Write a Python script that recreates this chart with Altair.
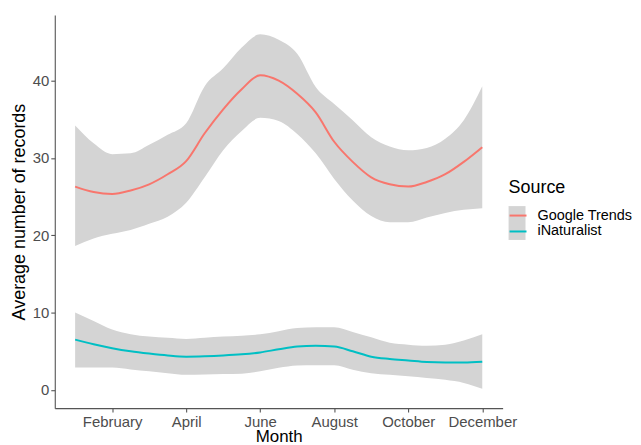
import altair as alt
import pandas as pd

months = [1, 1.5, 2, 2.5, 3, 3.5, 4, 4.5, 5, 5.5, 6, 6.5, 7, 7.5, 8, 8.5, 9, 9.5, 10, 10.5, 11, 11.5, 12]

google_fit = [26.3, 25.6, 25.35, 25.8, 26.6, 27.9, 29.6, 33.2, 36.3, 38.9, 40.7, 40.0, 38.3, 35.9, 32.1, 29.5, 27.5, 26.6, 26.3, 26.9, 27.9, 29.5, 31.4]
google_hi = [34.2, 31.9, 30.5, 30.6, 31.7, 33.0, 34.5, 39.3, 41.6, 44.3, 46.0, 45.3, 43.5, 39.2, 37.0, 34.9, 32.7, 31.5, 31.0, 31.3, 32.5, 34.9, 39.3]
google_lo = [18.6, 19.6, 20.2, 20.7, 21.5, 22.4, 24.2, 27.5, 31.0, 33.5, 35.2, 34.8, 33.1, 30.6, 27.3, 24.5, 22.5, 21.7, 21.7, 22.3, 22.9, 23.3, 23.5]

inat_fit = [6.5, 5.9, 5.4, 5.0, 4.7, 4.45, 4.3, 4.35, 4.45, 4.6, 4.85, 5.25, 5.6, 5.7, 5.6, 5.0, 4.3, 4.0, 3.8, 3.6, 3.55, 3.55, 3.65]
inat_hi = [10.0, 8.9, 7.8, 7.2, 6.9, 6.75, 6.6, 6.75, 6.9, 7.0, 7.2, 7.6, 8.0, 8.1, 8.1, 7.5, 6.8, 6.1, 5.85, 5.7, 5.85, 6.4, 7.2]
inat_lo = [2.9, 2.9, 2.9, 2.65, 2.4, 2.15, 1.95, 2.0, 2.05, 2.1, 2.4, 2.85, 3.15, 3.2, 3.2, 2.6, 2.15, 1.95, 1.75, 1.55, 1.3, 0.9, 0.15]

sources = ["Google Trends", "iNaturalist"]
source_colors = ["#F8766D", "#00BFC4"]
tick_months = [2, 4, 6, 8, 10, 12]
tick_names = ["February", "April", "June", "August", "October", "December"]
y_ticks = [0, 10, 20, 30, 40]

rows = []
for src, fit, lo, hi in [(sources[0], google_fit, google_lo, google_hi),
                         (sources[1], inat_fit, inat_lo, inat_hi)]:
    for m, f, l, h in zip(months, fit, lo, hi):
        rows.append({"Month": m, "Source": src, "fit": f, "lo": l, "hi": h})
df = pd.DataFrame(rows)

label_expr = "{" + ",".join(f"'{m}':'{n}'" for m, n in zip(tick_months, tick_names)) + "}[datum.value]"

FONT = "Liberation Sans"

x_enc = alt.X(
    "Month:Q",
    scale=alt.Scale(domain=[0.45, 12.55], nice=False, zero=False),
    axis=alt.Axis(values=tick_months, labelExpr=label_expr, title="Month", grid=False,
                  tickSize=4, labelPadding=2, titlePadding=0, titleFontSize=17),
)
y_scale = alt.Scale(domain=[-2.36, 48.5], nice=False, zero=False)
y_axis = alt.Axis(values=y_ticks, title="Average number of records", grid=False,
                  tickSize=4, labelPadding=2, titlePadding=4)

LX, LY = 456, 165

band = alt.Chart(df).mark_area(interpolate="monotone", opacity=1).encode(
    x=x_enc,
    y=alt.Y("lo:Q", scale=y_scale, axis=y_axis),
    y2="hi:Q",
    fill=alt.Fill(
        "Source:N",
        scale=alt.Scale(domain=sources[::-1], range=["#d4d4d4", "#d4d4d4"]),
        legend=alt.Legend(orient="none", legendX=LX, legendY=LY, title=" ",
                          symbolType="square", symbolSize=289, symbolStrokeWidth=0,
                          rowPadding=0, labelOffset=10, titlePadding=9,
                          labelExpr="''", zindex=1),
    ),
)

line = alt.Chart(df).mark_line(interpolate="monotone", strokeWidth=2).encode(
    x=x_enc,
    y=alt.Y("fit:Q", scale=y_scale, axis=y_axis),
    color=alt.Color(
        "Source:N",
        scale=alt.Scale(domain=sources, range=source_colors),
        legend=alt.Legend(orient="none", legendX=LX, legendY=LY, title="Source",
                          symbolType="stroke", symbolSize=289, symbolStrokeWidth=2,
                          rowPadding=0, labelOffset=10, titlePadding=9, zindex=2),
    ),
)

chart = alt.layer(band, line).properties(
    width=450, height=395,
    padding={"left": 2, "top": 6, "right": 0, "bottom": 0},
).configure_view(stroke=None).configure_axis(
    domainColor="#555555", tickColor="#555555", domainWidth=1.1, tickWidth=1.1,
    labelColor="#4d4d4d", labelFont=FONT, labelFontSize=15,
    titleColor="#000000", titleFont=FONT, titleFontSize=18, titleFontWeight="normal",
).configure_legend(
    labelFont=FONT, labelFontSize=14.5, labelColor="#000000",
    titleFont=FONT, titleFontSize=18, titleFontWeight="normal", titleColor="#000000",
)

chart.save("out.html", embed_options={"renderer": "svg", "actions": False})
